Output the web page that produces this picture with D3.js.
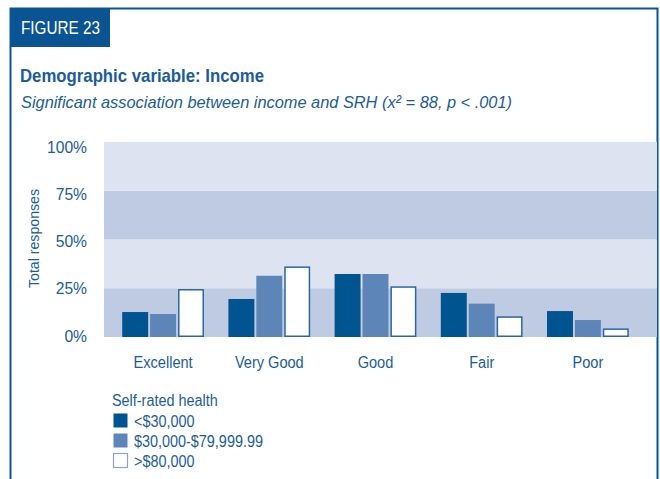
<!DOCTYPE html>
<html>
<head>
<meta charset="utf-8">
<script src="https://cdn.jsdelivr.net/npm/d3@7"></script>
<style>
  body { margin: 0; background: #fff; }
  text { font-family: "Liberation Sans", Arial, sans-serif; }
</style>
</head>
<body>
<div id="chart"></div>
<script>
const categories = ["Excellent", "Very Good", "Good", "Fair", "Poor"];
const seriesNames = ["<$30,000", "$30,000-$79,999.99", ">$80,000"];
const under30k = [12.8, 19.5, 32.3, 22.6, 13.3];
const mid30to80k = [11.8, 31.4, 32.3, 17.1, 8.7];
const over80k = [24.6, 36.2, 26.0, 10.6, 4.4];
const yTicks = [0, 25, 50, 75, 100];

const width = 660, height = 479;
const textBlue = "#1b5c9c";
const darkBlue = "#00548f";
const midBlue = "#5e85b8";

// squeeze text horizontally to mimic a condensed face
const condense = (sel, k) =>
  sel.each(function () {
    const len = this.getComputedTextLength();
    d3.select(this).attr("textLength", len * k).attr("lengthAdjust", "spacingAndGlyphs");
  });

const svg = d3.select("#chart").append("svg")
  .attr("width", width)
  .attr("height", height);

// frame
svg.append("path")
  .attr("d", "M10.5,479 V8.5 H657.5 V479")
  .attr("fill", "none")
  .attr("stroke", "#0b5494")
  .attr("stroke-width", 2);

svg.append("rect")
  .attr("x", 10).attr("y", 8)
  .attr("width", 100).attr("height", 39)
  .attr("fill", "#0b5494");

svg.append("text")
  .attr("x", 21).attr("y", 34)
  .attr("fill", "#fff")
  .style("font-size", "17.5px")
  .text("FIGURE 23")
  .attr("textLength", 79)
  .attr("lengthAdjust", "spacingAndGlyphs");

svg.append("text")
  .attr("x", 20).attr("y", 82)
  .attr("fill", textBlue)
  .style("font-size", "19px")
  .style("font-weight", "bold")
  .text("Demographic variable: Income")
  .attr("textLength", 244)
  .attr("lengthAdjust", "spacingAndGlyphs");

svg.append("text")
  .attr("x", 21).attr("y", 108)
  .attr("fill", textBlue)
  .style("font-size", "17px")
  .style("font-style", "italic")
  .text("Significant association between income and SRH (x\u00B2 = 88, p < .001)")
  .attr("textLength", 491)
  .attr("lengthAdjust", "spacingAndGlyphs");

const plotLeft = 104, plotRight = 657, plotTop = 142, plotBottom = 337;

const y = d3.scaleLinear().domain([0, 100]).range([plotBottom, plotTop]);
// tick labels sit on their own, slightly tighter spacing in the original
const yLabel = d3.scaleLinear().domain([0, 100]).range([plotBottom + 4, plotTop + 10]);
const x0 = d3.scaleBand().domain(categories).range([110, 641]).paddingInner(0.23).paddingOuter(0.115);
const x1 = d3.scaleBand().domain(d3.range(3)).range([0, x0.bandwidth()]).paddingInner(0.07);

// bands
const bandsData = d3.pairs(yTicks);
svg.append("g")
  .selectAll("rect")
  .data(bandsData)
  .join("rect")
  .attr("x", plotLeft)
  .attr("width", plotRight - plotLeft)
  .attr("y", (d) => y(d[1]))
  .attr("height", (d) => y(d[0]) - y(d[1]))
  .attr("fill", (d, i) => (i % 2 === 0 ? "#bfcbe3" : "#dde3f1"));

// y axis labels
const yAxis = svg.append("g")
  .attr("transform", `translate(${plotLeft - 17},0)`)
  .call(d3.axisLeft(yLabel).tickValues(yTicks).tickFormat((d) => d + "%").tickSize(0).tickPadding(0));
yAxis.select(".domain").remove();
yAxis.selectAll("text")
  .attr("fill", textBlue)
  .attr("dy", 0)
  .style("font-family", "'Liberation Sans', Arial, sans-serif")
  .style("font-size", "17px")
  .call(condense, 0.92);

svg.append("text")
  .attr("transform", `translate(39,${(plotTop + plotBottom) / 2 - 1}) rotate(-90)`)
  .attr("text-anchor", "middle")
  .attr("fill", textBlue)
  .style("font-size", "15.5px")
  .text("Total responses")
  .attr("textLength", 99)
  .attr("lengthAdjust", "spacingAndGlyphs");

// bars
const rows = categories.map((c, i) => ({
  cat: c,
  values: [under30k[i], mid30to80k[i], over80k[i]]
}));
const fills = [darkBlue, midBlue, "#fff"];

svg.append("g")
  .selectAll("g")
  .data(rows)
  .join("g")
  .attr("transform", (d) => `translate(${x0(d.cat)},0)`)
  .selectAll("rect")
  .data((d) => d.values.map((v, k) => ({ v, k })))
  .join("rect")
  .attr("x", (d) => x1(d.k) + (d.k === 2 ? 0.75 : 0))
  .attr("width", (d) => x1.bandwidth() - (d.k === 2 ? 1.5 : 0))
  .attr("y", (d) => y(d.v) + (d.k === 2 ? 0.75 : 0))
  .attr("height", (d) => y(0) - y(d.v) - (d.k === 2 ? 1.5 : 0))
  .attr("fill", (d) => fills[d.k])
  .attr("stroke", (d) => (d.k === 2 ? "#2a66a6" : "none"))
  .attr("stroke-width", 1.5);

// x axis labels
const xAxis = svg.append("g")
  .attr("transform", `translate(0,${plotBottom + 31})`)
  .call(d3.axisBottom(x0).tickSize(0).tickPadding(0));
xAxis.select(".domain").remove();
xAxis.selectAll("text")
  .attr("fill", textBlue)
  .attr("dy", 0)
  .style("font-family", "'Liberation Sans', Arial, sans-serif")
  .style("font-size", "16px")
  .call(condense, 0.91);

// legend
const legend = svg.append("g").attr("transform", "translate(112,0)");
legend.append("text")
  .attr("x", 0).attr("y", 406)
  .attr("fill", textBlue)
  .style("font-size", "16px")
  .text("Self-rated health")
  .call(condense, 0.9);

const items = legend.selectAll("g.item")
  .data(seriesNames)
  .join("g")
  .attr("class", "item")
  .attr("transform", (d, i) => `translate(0,${413 + i * 20})`);
items.append("rect")
  .attr("x", 1.5).attr("y", 0.5)
  .attr("width", 14).attr("height", 14)
  .attr("fill", (d, i) => fills[i])
  .attr("stroke", (d, i) => (i === 2 ? "#8aa4ca" : "none"))
  .attr("stroke-width", 1.2);
items.append("text")
  .attr("x", 22).attr("y", 14)
  .attr("fill", textBlue)
  .style("font-size", "16px")
  .text((d) => d)
  .call(condense, 0.9);
</script>
</body>
</html>
